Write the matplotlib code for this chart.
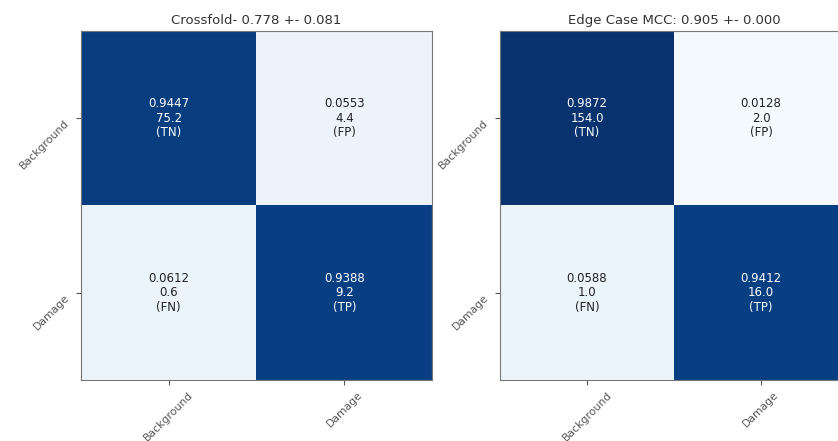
import numpy as np
import matplotlib
matplotlib.use("Agg")
import matplotlib.pyplot as plt

classes = ["Background", "Damage"]
cell_tags = [["(TN)", "(FP)"], ["(FN)", "(TP)"]]

title_left = "Crossfold- 0.778 +- 0.081"
norm_left = [[0.9447, 0.0553], [0.0612, 0.9388]]
count_left = [[75.2, 4.4], [0.6, 9.2]]

title_right = "Edge Case MCC: 0.905 +- 0.000"
norm_right = [[0.9872, 0.0128], [0.0588, 0.9412]]
count_right = [[154.0, 2.0], [1.0, 16.0]]

fig = plt.figure(figsize=(8.38, 4.41), dpi=100)
ax_l = fig.add_axes([81/838, 1-380/441, 351/838, 349/441])
ax_r = fig.add_axes([500/838, 1-380/441, 348/838, 349/441])

def draw(ax, norm, counts, title):
    norm = np.array(norm)
    counts = np.array(counts)
    ax.imshow(norm, cmap="Blues", vmin=0, vmax=1, interpolation="nearest", aspect="auto")
    ax.set_title(title, fontsize=9.5, color="#333333", pad=5)
    ax.set_xticks(range(len(classes)))
    ax.set_yticks(range(len(classes)))
    ax.set_xticklabels(classes, rotation=45, ha="center", fontsize=7.8, color="#333333")
    ax.set_yticklabels(classes, rotation=45, ha="right", va="top", fontsize=7.8, color="#333333")
    for s in ax.spines.values():
        s.set_color("#777777")
    ax.tick_params(colors="#555555", length=3.5)
    for i in range(norm.shape[0]):
        for j in range(norm.shape[1]):
            c = "white" if norm[i, j] > 0.5 else "#222222"
            ax.text(j, i, f"{norm[i, j]:.4f}\n{counts[i, j]:.1f}\n{cell_tags[i][j]}",
                    ha="center", va="center", fontsize=8.5, color=c, linespacing=1.15)

draw(ax_l, norm_left, count_left, title_left)
draw(ax_r, norm_right, count_right, title_right)

fig.savefig("out.png", dpi=100)
